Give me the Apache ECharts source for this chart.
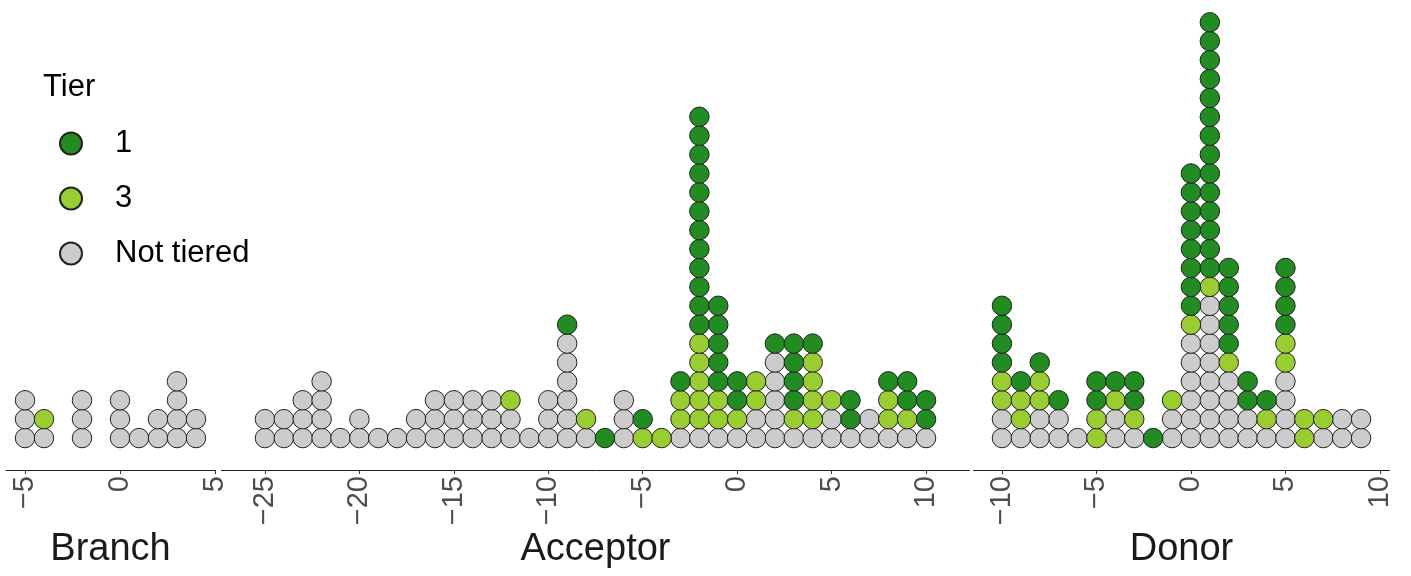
<!DOCTYPE html>
<html>
<head>
<meta charset="utf-8">
<title>Tier dot plot</title>
<script src="https://cdn.jsdelivr.net/npm/echarts@6/dist/echarts.min.js"></script>
<style>
  html, body { margin: 0; padding: 0; background: #fff; }
  #chart { width: 1411px; height: 576px; }
</style>
</head>
<body>
<div id="chart"></div>
<script>
// dot counts per position, stacked bottom to top: not tiered, tier 3, tier 1
const branchPos = [-5, -4, -2, 0, 1, 2, 3, 4];
const branchNone = [3, 1, 3, 3, 1, 2, 4, 2];
const branchTier3 = [0, 1, 0, 0, 0, 0, 0, 0];
const branchTier1 = [0, 0, 0, 0, 0, 0, 0, 0];

const acceptorPos = [-25, -24, -23, -22, -21, -20, -19, -18, -17, -16, -15, -14, -13, -12, -11, -10, -9, -8,
    -7, -6, -5, -4, -3, -2, -1, 0, 1, 2, 3, 4, 5, 6, 7, 8, 9, 10];
const acceptorNone = [2, 2, 3, 4, 1, 2, 1, 1, 2, 3, 3, 3, 3, 2, 1, 3, 6, 1,
    0, 3, 0, 0, 1, 1, 1, 1, 2, 5, 1, 1, 2, 1, 2, 1, 1, 1];
const acceptorTier3 = [0, 0, 0, 0, 0, 0, 0, 0, 0, 0, 0, 0, 0, 1, 0, 0, 0, 1,
    0, 0, 1, 1, 2, 5, 2, 1, 2, 0, 1, 4, 1, 0, 0, 2, 1, 0];
const acceptorTier1 = [0, 0, 0, 0, 0, 0, 0, 0, 0, 0, 0, 0, 0, 0, 0, 0, 1, 0,
    1, 0, 1, 0, 1, 12, 5, 2, 0, 1, 4, 1, 0, 2, 0, 1, 2, 2];

const donorPos = [-10, -9, -8, -7, -6, -5, -4, -3, -2, -1, 0, 1, 2, 3, 4, 5, 6, 7, 8, 9];
const donorNone = [2, 1, 2, 2, 1, 0, 2, 1, 0, 2, 6, 8, 4, 2, 1, 4, 0, 1, 2, 2];
const donorTier3 = [2, 2, 2, 0, 0, 2, 1, 1, 0, 1, 1, 1, 1, 0, 1, 2, 2, 1, 0, 0];
const donorTier1 = [4, 1, 1, 1, 0, 2, 1, 2, 1, 0, 8, 14, 5, 2, 1, 4, 0, 0, 0, 0];

const facetNames = ['Branch', 'Acceptor', 'Donor'];
const facetTicks = [[-5, 0, 5], [-25, -20, -15, -10, -5, 0, 5, 10], [-10, -5, 0, 5, 10]];
const tierNames = ['Not tiered', '3', '1'];
const tierColors = ['#cccccc', '#9acd32', '#228b22'];

const facets = [
    {pos: branchPos, counts: [branchNone, branchTier3, branchTier1], min: -6, max: 5, left: 6, width: 209},
    {pos: acceptorPos, counts: [acceptorNone, acceptorTier3, acceptorTier1], min: -27.3, max: 12.3, left: 221.5, width: 748},
    {pos: donorPos, counts: [donorNone, donorTier3, donorTier1], min: -11.5, max: 10.5, left: 973.6, width: 415.8}
];

function fmt(v) {
    return v < 0 ? '\u2212' + (-v) : String(v);
}

// turn counts into stacked points [x, level] for one tier
function stackPoints(facet, tier) {
    const pts = [];
    facet.pos.forEach((x, i) => {
        let base = 0;
        for (let t = 0; t < tier; t++) base += facet.counts[t][i];
        for (let k = 0; k < facet.counts[tier][i]; k++) pts.push([x, base + k]);
    });
    return pts;
}

const grids = [], xAxes = [], yAxes = [], series = [];
facets.forEach((f, gi) => {
    grids.push({left: f.left, width: f.width, top: 0, bottom: 106});
    xAxes.push({
        type: 'value', gridIndex: gi, min: f.min, max: f.max,
        name: facetNames[gi], nameLocation: 'middle', nameGap: 61, nameMoveOverlap: false,
        nameTextStyle: {fontSize: 38, color: '#1a1a1a', fontFamily: 'Liberation Sans'},
        axisLine: {show: true, onZero: false, lineStyle: {color: '#222', width: 1}},
        axisTick: {show: true, length: 4, customValues: facetTicks[gi], lineStyle: {color: '#333'}},
        axisLabel: {
            customValues: facetTicks[gi], rotate: 90, margin: 6, fontSize: 29,
            color: '#4d4d4d', fontFamily: 'Liberation Sans', formatter: fmt
        },
        splitLine: {show: false}
    });
    yAxes.push({type: 'value', gridIndex: gi, min: -1.69, max: 23.18, show: false});
    for (let t = 0; t < 3; t++) {
        series.push({
            type: 'scatter', name: tierNames[t], xAxisIndex: gi, yAxisIndex: gi,
            symbol: 'circle', symbolSize: 19.5,
            itemStyle: {color: tierColors[t], borderColor: '#222', borderWidth: 1, opacity: 1},
            data: stackPoints(f, t)
        });
    }
});

const chart = echarts.init(document.getElementById('chart'), null, {renderer: 'canvas'});
chart.setOption({
    animation: false,
    backgroundColor: '#fff',
    title: {
        text: 'Tier', left: 38, top: 67,
        textStyle: {fontSize: 31, fontWeight: 'normal', color: '#000', fontFamily: 'Liberation Sans'}
    },
    legend: {
        data: ['1', '3', 'Not tiered'],
        orient: 'vertical', left: 54, top: 123,
        itemWidth: 22, itemHeight: 22, itemGap: 24,
        icon: 'circle',
        textStyle: {fontSize: 31, color: '#000', fontFamily: 'Liberation Sans', padding: [0, 0, 0, 28], lineHeight: 31}
    },
    grid: grids,
    xAxis: xAxes,
    yAxis: yAxes,
    series: series
});
</script>
</body>
</html>
